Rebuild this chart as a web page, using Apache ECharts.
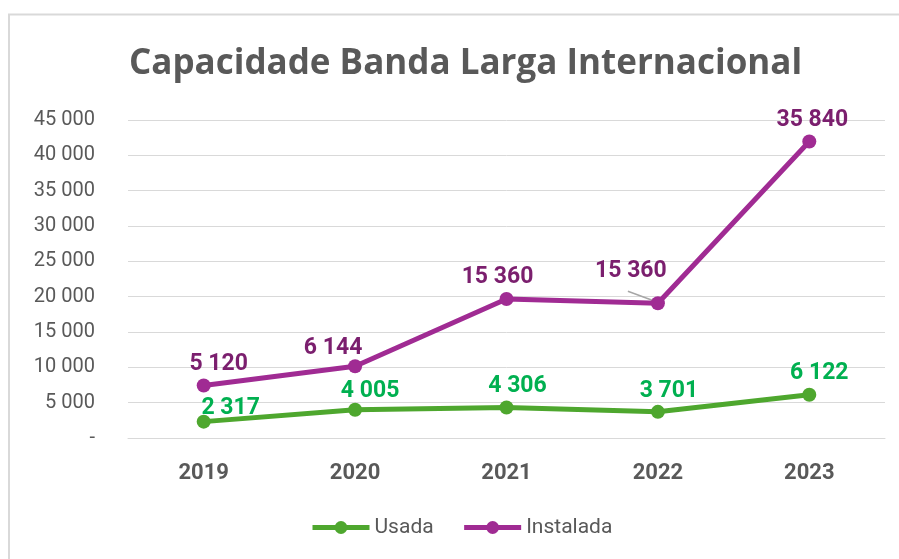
<!DOCTYPE html>
<html><head><meta charset="utf-8">
<script src="https://cdn.jsdelivr.net/npm/echarts@6/dist/echarts.min.js"></script>
<style>html,body{margin:0;padding:0;background:#fff}#c{width:899px;height:559px}</style>
</head><body><div id="c"></div>
<script>
const categories = ['2019','2020','2021','2022','2023'];
const usada = [2317, 4005, 4306, 3701, 6122];
const instalada = [5120, 6144, 15360, 15360, 35840];
const yTicks = [0, 5000, 10000, 15000, 20000, 25000, 30000, 35000, 40000, 45000];

const usadaOffsets = [[27,-13],[15,-18],[11,-21],[11,-21],[10,-21]];
const instOffsets = [[15,-21],[-22,-18],[-9,-22],[-27,-32],[3,-21]];

function fmt(v){ return v === 0 ? '-' : String(v).replace(/\B(?=(\d{3})+(?!\d))/g, ' '); }

const chart = echarts.init(document.getElementById('c'));
chart.setOption({
  animation: false,
  backgroundColor: '#fff',
  title: {
    text: 'Capacidade Banda Larga Internacional',
    left: 124, top: 42,
    textStyle: {fontFamily: 'Open Sans', fontWeight: 'bold', fontSize: 35, color: '#595959'}
  },
  grid: {left: 128, right: 14, top: 120, bottom: 121},
  xAxis: {
    type: 'category', data: categories,
    axisLine: {lineStyle: {color: '#d9d9d9'}}, axisTick: {show: false},
    axisLabel: {color: '#595959', fontSize: 22, fontWeight: 'bold', fontFamily: 'Roboto', margin: 24}
  },
  yAxis: {
    type: 'value', min: 0, max: 45000, interval: 5000,
    axisLine: {show: false}, axisTick: {show: false},
    splitLine: {lineStyle: {color: '#d9d9d9', width: 1}},
    axisLabel: {color: '#595959', fontSize: 20, fontFamily: 'Roboto', margin: 33,
      formatter: v => yTicks.includes(v) ? fmt(v) : ''}
  },
  legend: {
    bottom: 16, left: 305, itemWidth: 57, itemHeight: 16, itemGap: 28,
    textStyle: {color: '#595959', fontSize: 21, fontFamily: 'Roboto'},
    lineStyle: {width: 5},
    data: ['Usada', 'Instalada']
  },
  series: [
    {
      name: 'Usada', type: 'line', stack: 'total',
      symbol: 'circle', symbolSize: 14,
      lineStyle: {color: '#4EA72E', width: 5},
      itemStyle: {color: '#4EA72E'},
      data: usada.map((v,i) => ({value: v, label: {offset: usadaOffsets[i]}})),
      label: {show: true, position: 'inside', color: '#00B050', fontSize: 23, fontWeight: 'bold', fontFamily: 'Roboto',
        formatter: p => fmt(p.value)}
    },
    {
      name: 'Instalada', type: 'line', stack: 'total',
      symbol: 'circle', symbolSize: 14,
      lineStyle: {color: '#A02B93', width: 5},
      itemStyle: {color: '#A02B93'},
      data: instalada.map((v,i) => ({value: v, label: {offset: instOffsets[i]}})),
      label: {show: true, position: 'inside', color: '#7B1F6E', fontSize: 23, fontWeight: 'bold', fontFamily: 'Roboto',
        formatter: p => fmt(p.value)}
    }
  ]
});
// frame and leader line for the 2022 Instalada label, positioned through the chart's own scales
const stacked2022 = usada[3] + instalada[3];
const pt = chart.convertToPixel({seriesIndex: 1}, ['2022', stacked2022]);
chart.setOption({
  graphic: [
    {type:'polyline', shape:{points:[[9,559],[9,14.5],[899,14.5]]}, style:{fill:'none', stroke:'#d9d9d9', lineWidth:2}, z: -1},
    {type:'line', shape:{x1: pt[0]-30, y1: pt[1]-12, x2: pt[0]-3, y2: pt[1]-2}, style:{stroke:'#a6a6a6', lineWidth:1.5}, z: 1}
  ]
});
</script></body></html>
